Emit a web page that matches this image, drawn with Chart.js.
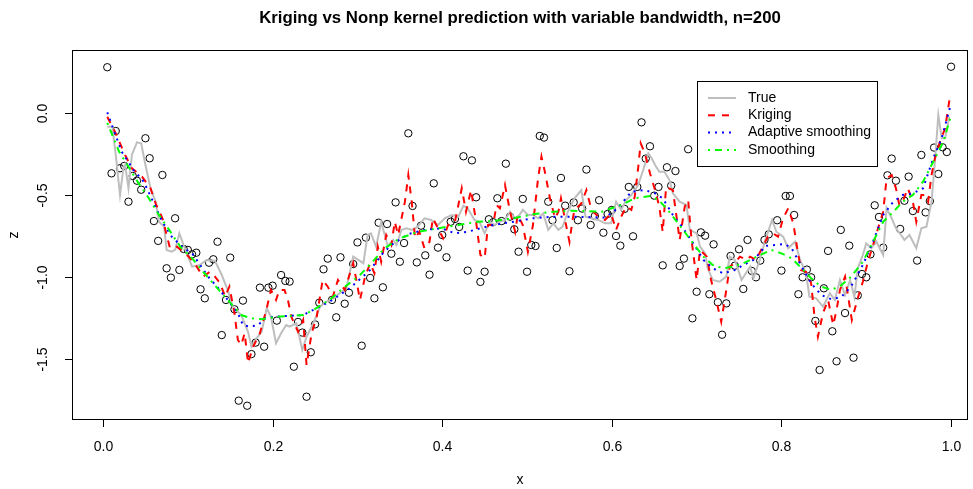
<!DOCTYPE html>
<html>
<head>
<meta charset="utf-8">
<script src="https://cdn.jsdelivr.net/npm/chart.js@4.4.1/dist/chart.umd.min.js"></script>
<style>
  html, body { margin: 0; padding: 0; background: #fff; }
  #c { display: block; }
</style>
</head>
<body>
<canvas id="c" width="973" height="489"></canvas>
<script>
// observed points, one per x = i/200
const pointZ = [
  0.279, -0.368, -0.110, -0.337, -0.323, -0.541, -0.384, -0.413, -0.468, -0.154,
  -0.276, -0.659, -0.780, -0.378, -0.947, -1.004, -0.642, -0.957, -0.829, -0.835,
  -0.862, -0.852, -1.075, -1.130, -0.913, -0.892, -0.785, -1.354, -1.140, -0.882,
  -1.197, -1.754, -1.144, -1.785, -1.470, -1.400, -1.065, -1.425, -1.065, -1.053,
  -1.266, -0.988, -1.024, -1.028, -1.547, -1.274, -1.339, -1.730, -1.459, -1.289,
  -1.157, -0.953, -0.888, -1.140, -1.246, -0.880, -1.163, -1.096, -0.921, -0.789,
  -1.419, -0.760, -1.006, -1.130, -0.669, -1.063, -0.677, -0.858, -0.545, -0.907,
  -0.793, -0.124, -0.567, -0.911, -0.687, -0.868, -0.986, -0.429, -0.821, -0.744,
  -0.880, -0.663, -0.646, -0.695, -0.264, -0.961, -0.289, -0.514, -1.030, -0.968,
  -0.648, -0.666, -0.520, -0.659, -0.309, -0.632, -0.709, -0.846, -0.524, -0.968,
  -0.805, -0.811, -0.140, -0.150, -0.541, -0.654, -0.823, -0.396, -0.565, -0.965,
  -0.545, -0.654, -0.583, -0.345, -0.683, -0.628, -0.532, -0.730, -0.616, -0.591,
  -0.750, -0.809, -0.585, -0.451, -0.752, -0.451, -0.057, -0.278, -0.203, -0.504,
  -0.451, -0.929, -0.331, -0.443, -0.354, -0.933, -0.888, -0.221, -1.252, -1.090,
  -0.728, -0.748, -1.105, -0.801, -1.154, -1.352, -1.161, -0.872, -0.931, -0.831,
  -1.073, -0.774, -0.963, -1.002, -0.900, -0.774, -0.740, -0.250, -0.654, -0.961,
  -0.506, -0.506, -0.622, -1.105, -1.002, -0.955, -1.002, -1.268, -1.567, -1.069,
  -0.841, -1.331, -1.514, -0.713, -1.220, -0.809, -1.492, -1.112, -0.982, -1.002,
  -0.862, -0.563, -0.634, -0.821, -0.380, -0.278, -0.413, -0.707, -0.535, -0.388,
  -0.598, -0.900, -0.256, -0.606, -0.537, -0.211, -0.372, -0.209, -0.238, 0.282
];
const pointX = pointZ.map((_, i) => (i + 1) / 200);

const trueX = [
  0.005, 0.011, 0.015, 0.020, 0.024, 0.026, 0.030, 0.034, 0.040, 0.045,
  0.050, 0.056, 0.062, 0.066, 0.072, 0.075, 0.081, 0.085, 0.090, 0.095,
  0.101, 0.105, 0.114, 0.122, 0.132, 0.140, 0.147, 0.153, 0.163, 0.171,
  0.175, 0.181, 0.187, 0.193, 0.198, 0.204, 0.210, 0.216, 0.220, 0.228,
  0.235, 0.240, 0.248, 0.256, 0.263, 0.271, 0.279, 0.287, 0.295, 0.301,
  0.307, 0.312, 0.316, 0.322, 0.328, 0.336, 0.342, 0.346, 0.352, 0.358,
  0.364, 0.371, 0.379, 0.387, 0.395, 0.403, 0.411, 0.419, 0.425, 0.430,
  0.438, 0.444, 0.450, 0.456, 0.462, 0.468, 0.474, 0.480, 0.486, 0.491,
  0.495, 0.501, 0.507, 0.513, 0.519, 0.525, 0.531, 0.537, 0.542, 0.548,
  0.556, 0.564, 0.569, 0.576, 0.584, 0.592, 0.599, 0.605, 0.611, 0.617,
  0.623, 0.631, 0.637, 0.643, 0.647, 0.651, 0.656, 0.662, 0.668, 0.672,
  0.680, 0.688, 0.692, 0.700, 0.704, 0.710, 0.713, 0.719, 0.727, 0.735,
  0.739, 0.745, 0.753, 0.763, 0.767, 0.775, 0.781, 0.789, 0.794, 0.802,
  0.808, 0.816, 0.822, 0.829, 0.833, 0.841, 0.849, 0.857, 0.863, 0.869,
  0.875, 0.881, 0.886, 0.890, 0.896, 0.900, 0.906, 0.912, 0.918, 0.920,
  0.924, 0.930, 0.935, 0.941, 0.945, 0.951, 0.959, 0.965, 0.971, 0.977,
  0.981, 0.985, 0.989, 0.993, 0.998
];
const trueZ = [
  -0.084, -0.084, -0.256, -0.500, -0.337, -0.317, -0.459, -0.256, -0.179, -0.185,
  -0.317, -0.459, -0.541, -0.663, -0.693, -0.835, -0.846, -0.835, -0.734, -0.805,
  -0.886, -0.937, -0.927, -0.896, -0.901, -0.988, -1.079, -1.181, -1.232, -1.334,
  -1.425, -1.374, -1.334, -1.191, -1.242, -1.404, -1.343, -1.293, -1.303, -1.282,
  -1.445, -1.364, -1.282, -1.181, -1.151, -1.130, -1.099, -1.069, -0.876, -0.896,
  -0.916, -0.744, -0.734, -0.815, -0.665, -0.815, -0.774, -0.805, -0.713, -0.703,
  -0.713, -0.693, -0.642, -0.652, -0.683, -0.642, -0.622, -0.632, -0.565, -0.581,
  -0.652, -0.665, -0.734, -0.663, -0.683, -0.663, -0.652, -0.602, -0.642, -0.622,
  -0.591, -0.622, -0.622, -0.642, -0.612, -0.713, -0.673, -0.713, -0.693, -0.604,
  -0.520, -0.470, -0.632, -0.642, -0.652, -0.673, -0.673, -0.541, -0.591, -0.530,
  -0.500, -0.439, -0.348, -0.246, -0.276, -0.317, -0.358, -0.358, -0.409, -0.490,
  -0.541, -0.561, -0.713, -0.734, -0.815, -0.856, -0.947, -1.018, -1.029, -0.998,
  -0.876, -0.896, -1.018, -0.937, -1.008, -0.886, -0.774, -0.652, -0.724, -0.754,
  -0.825, -0.785, -0.896, -0.977, -1.120, -1.130, -1.181, -1.099, -1.140, -1.018,
  -1.110, -1.018, -1.122, -0.947, -0.866, -0.795, -0.825, -0.785, -0.846, -0.866,
  -0.581, -0.642, -0.703, -0.744, -0.774, -0.744, -0.825, -0.703, -0.693, -0.541,
  -0.297, -0.012, -0.154, -0.154, -0.022
];

const krigX = [
  0.005, 0.015, 0.020, 0.026, 0.034, 0.046, 0.056, 0.062, 0.070, 0.075,
  0.079, 0.087, 0.097, 0.107, 0.118, 0.126, 0.132, 0.138, 0.144, 0.149,
  0.155, 0.159, 0.163, 0.167, 0.171, 0.177, 0.185, 0.193, 0.198, 0.204,
  0.208, 0.214, 0.218, 0.222, 0.230, 0.236, 0.240, 0.246, 0.252, 0.259,
  0.265, 0.271, 0.277, 0.285, 0.295, 0.303, 0.309, 0.315, 0.320, 0.324,
  0.328, 0.334, 0.340, 0.344, 0.348, 0.356, 0.360, 0.364, 0.368, 0.373,
  0.379, 0.385, 0.389, 0.395, 0.401, 0.407, 0.415, 0.423, 0.428, 0.434,
  0.440, 0.445, 0.450, 0.454, 0.460, 0.464, 0.468, 0.474, 0.480, 0.486,
  0.489, 0.495, 0.501, 0.507, 0.513, 0.517, 0.521, 0.527, 0.533, 0.537,
  0.540, 0.546, 0.550, 0.554, 0.556, 0.564, 0.570, 0.576, 0.584, 0.592,
  0.599, 0.605, 0.611, 0.617, 0.623, 0.627, 0.631, 0.634, 0.639, 0.645,
  0.651, 0.656, 0.660, 0.664, 0.672, 0.680, 0.686, 0.690, 0.694, 0.700,
  0.704, 0.712, 0.717, 0.723, 0.729, 0.735, 0.739, 0.745, 0.751, 0.759,
  0.763, 0.770, 0.778, 0.784, 0.790, 0.796, 0.802, 0.808, 0.814, 0.818,
  0.823, 0.829, 0.835, 0.839, 0.843, 0.849, 0.855, 0.861, 0.865, 0.869,
  0.875, 0.883, 0.890, 0.896, 0.902, 0.908, 0.914, 0.920, 0.924, 0.930,
  0.935, 0.939, 0.943, 0.949, 0.955, 0.959, 0.965, 0.969, 0.973, 0.977,
  0.981, 0.987, 0.993, 0.996, 0.999
];
const krigZ = [
  -0.023, -0.124, -0.185, -0.256, -0.337, -0.388, -0.459, -0.551, -0.642, -0.744,
  -0.825, -0.815, -0.855, -0.909, -0.998, -0.968, -0.998, -1.038, -1.120, -1.059,
  -1.221, -1.384, -1.415, -1.343, -1.526, -1.425, -1.343, -1.191, -1.079, -1.140,
  -1.079, -1.079, -1.140, -1.242, -1.334, -1.262, -1.537, -1.343, -1.242, -1.018,
  -1.059, -1.120, -1.018, -1.079, -0.916, -1.140, -0.998, -0.916, -0.977, -0.815,
  -0.907, -0.744, -0.805, -0.663, -0.744, -0.541, -0.378, -0.541, -0.764, -0.724,
  -0.825, -0.785, -0.642, -0.703, -0.764, -0.683, -0.663, -0.459, -0.602, -0.470,
  -0.665, -0.866, -0.886, -0.683, -0.683, -0.561, -0.581, -0.439, -0.602, -0.724,
  -0.622, -0.683, -0.846, -0.683, -0.398, -0.266, -0.358, -0.520, -0.642, -0.602,
  -0.520, -0.683, -0.785, -0.642, -0.591, -0.551, -0.470, -0.591, -0.632, -0.652,
  -0.612, -0.713, -0.632, -0.571, -0.591, -0.510, -0.337, -0.185, -0.246, -0.368,
  -0.470, -0.571, -0.726, -0.451, -0.470, -0.774, -0.571, -0.530, -0.774, -1.018,
  -0.835, -0.876, -1.018, -1.140, -1.273, -1.079, -0.937, -0.916, -0.876, -0.896,
  -0.876, -0.896, -0.815, -0.754, -0.734, -0.754, -0.642, -0.581, -0.673, -0.805,
  -0.957, -0.968, -1.038, -1.242, -1.364, -1.221, -1.140, -1.293, -1.201, -1.079,
  -0.998, -1.262, -1.130, -1.029, -0.907, -0.805, -0.703, -0.602, -0.398, -0.378,
  -0.459, -0.561, -0.541, -0.459, -0.541, -0.663, -0.500, -0.500, -0.541, -0.378,
  -0.276, -0.175, -0.093, 0.008, 0.110
];

const adaptX = [
  0.005, 0.013, 0.022, 0.036, 0.048, 0.058, 0.070, 0.081, 0.095, 0.105,
  0.124, 0.136, 0.147, 0.159, 0.165, 0.173, 0.183, 0.191, 0.203, 0.236,
  0.267, 0.291, 0.315, 0.330, 0.340, 0.360, 0.379, 0.399, 0.415, 0.430,
  0.460, 0.484, 0.507, 0.531, 0.554, 0.592, 0.607, 0.623, 0.639, 0.651,
  0.660, 0.666, 0.672, 0.684, 0.696, 0.708, 0.719, 0.731, 0.743, 0.755,
  0.767, 0.776, 0.780, 0.792, 0.804, 0.812, 0.824, 0.835, 0.847, 0.859,
  0.871, 0.882, 0.896, 0.908, 0.920, 0.932, 0.943, 0.955, 0.967, 0.979,
  0.989, 0.999
];
const adaptZ = [
  0.004, -0.110, -0.236, -0.348, -0.419, -0.530, -0.663, -0.754, -0.825, -0.855,
  -0.998, -1.069, -1.140, -1.221, -1.293, -1.303, -1.293, -1.252, -1.242, -1.232,
  -1.151, -1.069, -0.957, -0.855, -0.805, -0.738, -0.713, -0.703, -0.734, -0.724,
  -0.683, -0.663, -0.642, -0.632, -0.632, -0.638, -0.581, -0.480, -0.470, -0.490,
  -0.520, -0.571, -0.622, -0.703, -0.795, -0.896, -0.947, -0.977, -0.963, -0.927,
  -0.896, -0.846, -0.811, -0.805, -0.799, -0.825, -0.937, -1.038, -1.110, -1.136,
  -1.120, -1.059, -0.927, -0.785, -0.622, -0.541, -0.500, -0.490, -0.459, -0.276,
  -0.154, 0.038
];

const smoothX = [
  0.005, 0.019, 0.042, 0.054, 0.066, 0.078, 0.091, 0.105, 0.118, 0.140,
  0.163, 0.175, 0.187, 0.206, 0.236, 0.248, 0.267, 0.283, 0.303, 0.318,
  0.332, 0.350, 0.372, 0.395, 0.419, 0.442, 0.460, 0.484, 0.507, 0.531,
  0.554, 0.588, 0.611, 0.627, 0.645, 0.655, 0.666, 0.672, 0.684, 0.696,
  0.708, 0.719, 0.731, 0.743, 0.755, 0.770, 0.788, 0.800, 0.812, 0.824,
  0.835, 0.847, 0.859, 0.871, 0.882, 0.896, 0.908, 0.920, 0.932, 0.943,
  0.955, 0.967, 0.979, 0.991, 0.999
];
const smoothZ = [
  -0.061, -0.236, -0.429, -0.520, -0.622, -0.713, -0.815, -0.886, -0.968, -1.099,
  -1.232, -1.252, -1.258, -1.242, -1.232, -1.201, -1.140, -1.069, -0.988, -0.907,
  -0.825, -0.764, -0.724, -0.703, -0.683, -0.663, -0.659, -0.642, -0.618, -0.602,
  -0.596, -0.602, -0.561, -0.520, -0.506, -0.530, -0.591, -0.632, -0.713, -0.795,
  -0.876, -0.927, -0.947, -0.937, -0.917, -0.878, -0.835, -0.856, -0.886, -0.947,
  -1.008, -1.059, -1.079, -1.049, -0.998, -0.907, -0.785, -0.663, -0.602, -0.541,
  -0.500, -0.419, -0.297, -0.175, -0.032
];

const xTicks = [0, 0.2, 0.4, 0.6, 0.8, 1.0];
const yTicks = [0, -0.5, -1.0, -1.5];
const legendLabels = ['True', 'Kriging', 'Adaptive smoothing', 'Smoothing'];
const titleText = 'Kriging vs Nonp kernel prediction with variable bandwidth, n=200';

const FONT = '"Liberation Sans", Arial, Helvetica, sans-serif';

const styles = [
  { color: '#BEBEBE', dash: [] },
  { color: '#FF0000', dash: [7, 7] },
  { color: '#0000FF', dash: [2, 5] },
  { color: '#00FF00', dash: [2, 5, 7, 5] }
];

function lineSet(label, xs, zs, st, order) {
  return {
    type: 'line',
    label: label,
    data: xs.map((x, i) => ({ x: x, y: zs[i] })),
    borderColor: st.color,
    borderWidth: 2,
    borderDash: st.dash,
    borderCapStyle: 'butt',
    pointRadius: 0,
    fill: false,
    tension: 0,
    order: order
  };
}

// R style box, axes, titles and legend
const rDecor = {
  id: 'rDecor',
  afterDraw(chart) {
    const ctx = chart.ctx;
    const a = chart.chartArea;
    const xs = chart.scales.x;
    const ys = chart.scales.y;
    ctx.save();
    ctx.strokeStyle = '#000';
    ctx.fillStyle = '#000';
    ctx.lineWidth = 1;
    ctx.setLineDash([]);
    ctx.strokeRect(a.left + 0.5, a.top + 0.5, a.right - a.left - 1, a.bottom - a.top - 1);

    ctx.font = '14px ' + FONT;
    ctx.textAlign = 'center';
    ctx.textBaseline = 'middle';
    xTicks.forEach(v => {
      const px = Math.round(xs.getPixelForValue(v)) + 0.5;
      ctx.beginPath();
      ctx.moveTo(px, a.bottom);
      ctx.lineTo(px, a.bottom + 7);
      ctx.stroke();
      ctx.fillText(v.toFixed(1), px, a.bottom + 27);
    });
    yTicks.forEach(v => {
      const py = Math.round(ys.getPixelForValue(v)) + 0.5;
      ctx.beginPath();
      ctx.moveTo(a.left, py);
      ctx.lineTo(a.left - 7, py);
      ctx.stroke();
      ctx.save();
      ctx.translate(a.left - 29, py);
      ctx.rotate(-Math.PI / 2);
      ctx.fillText(v.toFixed(1), 0, 0);
      ctx.restore();
    });

    ctx.fillText('x', (a.left + a.right) / 2, 480);
    ctx.save();
    ctx.translate(14, (a.top + a.bottom) / 2);
    ctx.rotate(-Math.PI / 2);
    ctx.fillText('z', 0, 0);
    ctx.restore();

    ctx.font = 'bold 16.8px ' + FONT;
    ctx.fillText(titleText, (a.left + a.right) / 2, 18);

    // legend
    const lx = 697, ly = 81, lw = 180, lh = 85;
    ctx.fillStyle = '#fff';
    ctx.fillRect(lx, ly, lw, lh);
    ctx.strokeStyle = '#000';
    ctx.lineWidth = 1;
    ctx.strokeRect(lx + 0.5, ly + 0.5, lw, lh);
    ctx.font = '14px ' + FONT;
    ctx.textAlign = 'left';
    legendLabels.forEach((lab, i) => {
      const yy = ly + 17 + i * 17.3;
      ctx.strokeStyle = styles[i].color;
      ctx.lineWidth = 2;
      ctx.setLineDash(styles[i].dash);
      ctx.beginPath();
      ctx.moveTo(lx + 11, yy);
      ctx.lineTo(lx + 39, yy);
      ctx.stroke();
      ctx.setLineDash([]);
      ctx.fillStyle = '#000';
      ctx.fillText(lab, lx + 51, yy);
    });
    ctx.restore();
  }
};

new Chart(document.getElementById('c'), {
  type: 'scatter',
  data: {
    datasets: [
      lineSet('Smoothing', smoothX, smoothZ, styles[3], 1),
      lineSet('Adaptive smoothing', adaptX, adaptZ, styles[2], 2),
      lineSet('Kriging', krigX, krigZ, styles[1], 3),
      lineSet('True', trueX, trueZ, styles[0], 4),
      {
        type: 'scatter',
        label: 'data',
        data: pointX.map((x, i) => ({ x: x, y: pointZ[i] })),
        pointStyle: 'circle',
        pointRadius: 3.7,
        borderColor: '#000',
        backgroundColor: 'rgba(0,0,0,0)',
        borderWidth: 1,
        order: 5
      }
    ]
  },
  options: {
    responsive: false,
    animation: false,
    devicePixelRatio: 1,
    layout: { padding: { left: 72, right: 5, top: 50, bottom: 69 } },
    plugins: { legend: { display: false }, tooltip: { enabled: false } },
    scales: {
      x: { type: 'linear', min: -0.0366, max: 1.02, display: false },
      y: { type: 'linear', min: -1.872, max: 0.384, display: false }
    }
  },
  plugins: [rDecor]
});
</script>
</body>
</html>
